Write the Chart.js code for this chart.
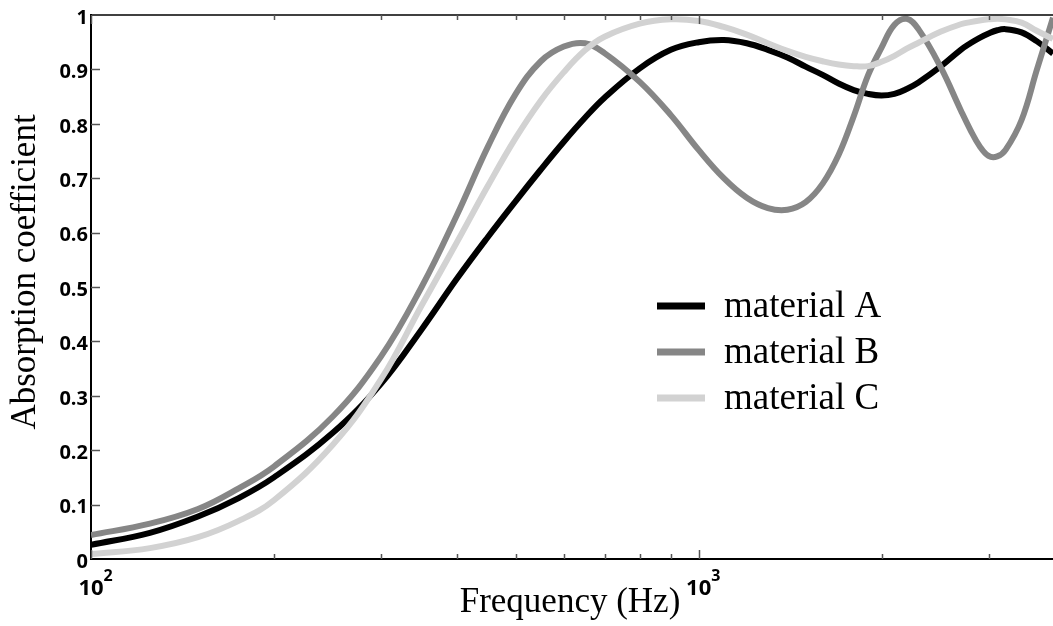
<!DOCTYPE html>
<html lang="en">
<head>
    <meta charset="UTF-8">
    <title>Absorption coefficient</title>
    <script src="https://cdn.jsdelivr.net/npm/chart.js"></script>
    <style>
        html, body { margin: 0; padding: 0; background: #fff; }
        canvas { display: block; }
    </style>
</head>
<body>
    <canvas id="grafico" width="1053" height="626"></canvas>
<script>
    // frequencias (Hz) e coeficientes
    const frequencias = [100, 125, 150, 175, 200, 250, 300, 350, 400, 450, 500, 550, 600, 650, 700, 800, 900,
        1000, 1100, 1200, 1300, 1400, 1500, 1600, 1700, 1800, 1900, 2000, 2100, 2200, 2300, 2500, 2700,
        2800, 2900, 3000, 3100, 3200, 3400, 3600, 3830];

    const materialA = [0.026, 0.048, 0.078, 0.112, 0.150, 0.232, 0.322, 0.422, 0.515, 0.592, 0.658, 0.716, 0.767, 0.811, 0.848, 0.902, 0.936,
        0.950, 0.954, 0.948, 0.936, 0.922, 0.905, 0.890, 0.874, 0.862, 0.855, 0.852, 0.855, 0.864, 0.876, 0.905, 0.936,
        0.948, 0.958, 0.966, 0.972, 0.974, 0.968, 0.952, 0.929];

    const materialB = [0.044, 0.065, 0.092, 0.130, 0.170, 0.262, 0.372, 0.500, 0.632, 0.758, 0.855, 0.915, 0.942, 0.948, 0.930, 0.877, 0.816,
        0.752, 0.700, 0.664, 0.645, 0.642, 0.656, 0.690, 0.743, 0.814, 0.889, 0.940, 0.982, 0.993, 0.974, 0.905, 0.825,
        0.789, 0.759, 0.741, 0.740, 0.752, 0.807, 0.898, 0.995];

    const materialC = [0.009, 0.020, 0.040, 0.070, 0.108, 0.210, 0.330, 0.466, 0.582, 0.686, 0.774, 0.843, 0.895, 0.935, 0.960, 0.984, 0.992,
        0.989, 0.978, 0.964, 0.948, 0.934, 0.923, 0.915, 0.909, 0.906, 0.906, 0.914, 0.925, 0.938, 0.949, 0.969, 0.983,
        0.987, 0.990, 0.992, 0.993, 0.992, 0.986, 0.971, 0.956];

    const nomes = ['material A', 'material B', 'material C'];
    const cores = ['#000000', '#868686', '#d2d2d2'];

    const xMaiores = [100, 1000];
    const xMenores = [200, 300, 400, 500, 600, 700, 800, 900, 2000, 3000];
    const yTicks = [0.1, 0.2, 0.3, 0.4, 0.5, 0.6, 0.7, 0.8, 0.9];

    function pontos(valores) {
        return frequencias.map((f, i) => ({ x: f, y: valores[i] }));
    }

    const serif = '"Liberation Serif", "Times New Roman", serif';
    const sans = '"Open Sans", "DejaVu Sans", sans-serif';

    // ticks para dentro, rotulos 10^n, titulos e legenda
    const extras = {
        id: 'extras',
        afterDraw(chart) {
            const ctx = chart.ctx;
            const area = chart.chartArea;
            const sx = chart.scales.x;
            const sy = chart.scales.y;
            ctx.save();

            // borda de cima
            ctx.strokeStyle = '#000';
            ctx.lineWidth = 1.5;
            ctx.beginPath();
            ctx.moveTo(area.left, area.top);
            ctx.lineTo(area.right, area.top);
            ctx.stroke();

            ctx.strokeStyle = '#555';
            ctx.lineWidth = 1.5;
            function tickX(v, len) {
                const px = Math.round(sx.getPixelForValue(v)) + 0.5;
                ctx.beginPath();
                ctx.moveTo(px, area.bottom);
                ctx.lineTo(px, area.bottom - len);
                ctx.moveTo(px, area.top);
                ctx.lineTo(px, area.top + len);
                ctx.stroke();
            }
            xMaiores.forEach(v => tickX(v, 9));
            xMenores.forEach(v => tickX(v, 5));
            yTicks.forEach(v => {
                const py = Math.round(sy.getPixelForValue(v)) + 0.5;
                ctx.beginPath();
                ctx.moveTo(area.left, py);
                ctx.lineTo(area.left + 9, py);
                ctx.stroke();
            });

            // rotulos 10^n
            ctx.fillStyle = '#000';
            ctx.textBaseline = 'alphabetic';
            xMaiores.forEach(v => {
                const px = sx.getPixelForValue(v);
                ctx.font = 'bold 22px ' + sans;
                ctx.textAlign = 'center';
                ctx.fillText('10', px, area.bottom + 36);
                const w = ctx.measureText('10').width;
                ctx.font = 'bold 16px ' + sans;
                ctx.textAlign = 'left';
                ctx.fillText(String(Math.round(Math.log10(v))), px + w / 2, area.bottom + 22);
            });

            // titulos dos eixos
            ctx.font = '35px ' + serif;
            ctx.textAlign = 'center';
            ctx.fillText('Frequency (Hz)', (area.left + area.right) / 2 - 2, area.bottom + 53);
            ctx.save();
            ctx.translate(35, 272);
            ctx.rotate(-Math.PI / 2);
            ctx.fillText('Absorption coefficient', 0, 0);
            ctx.restore();

            // legenda
            ctx.font = '37px ' + serif;
            ctx.textAlign = 'left';
            ctx.textBaseline = 'middle';
            chart.data.datasets.forEach((ds, i) => {
                const ly = area.top + 291 + i * 46;
                const lx = area.left + 566;
                ctx.strokeStyle = ds.borderColor;
                ctx.lineWidth = 7;
                ctx.beginPath();
                ctx.moveTo(lx, ly);
                ctx.lineTo(lx + 48, ly);
                ctx.stroke();
                ctx.fillStyle = '#000';
                ctx.fillText(ds.label, lx + 67, ly + 1);
            });
            ctx.restore();
        }
    };

    const dados = {
        datasets: [materialA, materialB, materialC].map((valores, i) => ({
            label: nomes[i],
            data: pontos(valores),
            borderColor: cores[i],
            backgroundColor: cores[i],
            borderWidth: 6,
            pointRadius: 0,
            fill: false,
            tension: 0.4,
            order: 2 - i
        }))
    };

    const config = {
        type: 'line',
        data: dados,
        options: {
            responsive: false,
            animation: false,
            layout: { padding: { top: 11, right: 0, left: 0, bottom: 0 } },
            plugins: { legend: { display: false }, tooltip: { enabled: false } },
            scales: {
                x: {
                    type: 'logarithmic',
                    min: 100,
                    max: 3830,
                    grid: { display: false, drawTicks: false },
                    border: { display: true, color: '#000', width: 2 },
                    ticks: { display: false },
                    afterFit: s => { s.height = 67; }
                },
                y: {
                    min: 0,
                    max: 1,
                    grid: { display: false, drawTicks: false },
                    border: { display: true, color: '#000', width: 2 },
                    ticks: {
                        stepSize: 0.1,
                        color: '#000',
                        padding: 3,
                        labelOffset: 3,
                        font: { family: sans, size: 20, weight: 'bold' },
                        callback: v => String(Math.round(v * 10) / 10)
                    },
                    afterFit: s => { s.width = 91; }
                }
            }
        },
        plugins: [extras]
    };

    let myChart = new Chart(document.getElementById('grafico'), config);
</script>
</body>
</html>
